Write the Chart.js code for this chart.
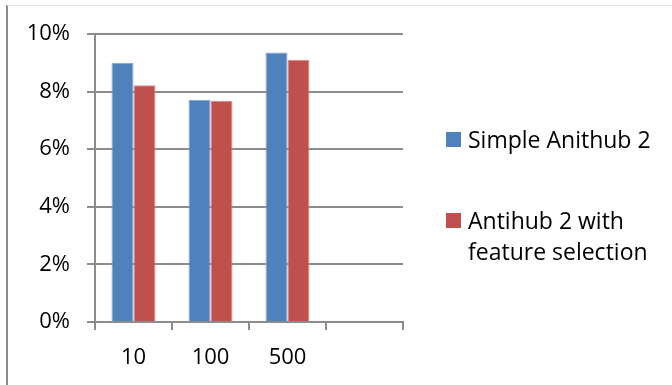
<!DOCTYPE html>
<html>
<head>
<meta charset="utf-8">
<script src="https://cdn.jsdelivr.net/npm/chart.js@4.4.1/dist/chart.umd.min.js"></script>
<style>
  html, body { margin: 0; padding: 0; background: #fff; }
  #wrap { position: relative; width: 672px; height: 385px; overflow: hidden; font-family: "Open Sans", sans-serif; }
  #frame { position: absolute; left: 6px; top: 5px; right: -2px; bottom: -2px;
           border-left: 2px solid #8a8a8a; border-top: 1px solid #e4e4e4; }
  canvas { position: absolute; left: 0; top: 0; }
  .legend { position: absolute; left: 446px; top: 0; font-size: 23px; line-height: 31px; color: #000; }
  .legend .item { position: absolute; left: 0; padding-left: 22px; white-space: nowrap; }
  .legend .sw { position: absolute; left: 0; top: 8px; width: 15px; height: 15px; }
</style>
</head>
<body>
<div id="wrap">
  <div id="frame"></div>
  <canvas id="c" width="672" height="385"></canvas>
  <div class="legend" id="legend"></div>
</div>
<script>
// Category axis: three sizes plus one empty slot
const categories = ['10', '100', '500', ''];
const seriesNames = ['Simple Anithub 2', 'Antihub 2 with feature selection'];
const simpleAntihub = [9.0, 7.72, 9.36, null];
const antihubFeatureSel = [8.22, 7.67, 9.11, null];
const yTicks = [0, 2, 4, 6, 8, 10];

const blue = '#4F81BD';
const red = '#C0504D';

// Legend beside the plot (second entry wraps over two lines)
const legend = document.getElementById('legend');
legend.innerHTML =
  '<div class="item" style="top:124px"><span class="sw" style="background:' + blue + '"></span>' + seriesNames[0] + '</div>' +
  '<div class="item" style="top:205px"><span class="sw" style="background:' + red + '"></span>Antihub 2 with<br>feature selection</div>';

const gridColor = '#8c8c8c';
const tickFont = { family: 'Open Sans', size: 22 };

new Chart(document.getElementById('c'), {
  type: 'bar',
  data: {
    labels: categories,
    datasets: [
      { label: seriesNames[0], data: simpleAntihub, backgroundColor: blue, borderColor: '#7fa3d2', borderWidth: 1 },
      { label: seriesNames[1], data: antihubFeatureSel, backgroundColor: red, borderColor: '#d98a88', borderWidth: 1 }
    ]
  },
  options: {
    responsive: false,
    animation: false,
    layout: { padding: { top: 34, right: 269, left: 0, bottom: 0 } },
    plugins: { legend: { display: false }, tooltip: { enabled: false } },
    datasets: { bar: { categoryPercentage: 0.571, barPercentage: 1.0 } },
    scales: {
      x: {
        offset: true,
        grid: { display: true, drawOnChartArea: false, drawTicks: true, tickLength: 8, color: gridColor, lineWidth: 2, offset: true },
        border: { display: true, color: gridColor, width: 2 },
        ticks: { color: '#000', padding: 15, font: tickFont },
        afterFit: s => { s.height = 63; }
      },
      y: {
        min: 0, max: 10,
        afterBuildTicks: s => { s.ticks = yTicks.map(v => ({ value: v })); },
        grid: { color: gridColor, lineWidth: 2, tickLength: 8 },
        border: { display: true, color: gridColor, width: 2 },
        ticks: { color: '#000', padding: 17, font: tickFont, callback: v => v + '%' },
        afterFit: s => { s.width = 95; }
      }
    }
  }
});
</script>
</body>
</html>
